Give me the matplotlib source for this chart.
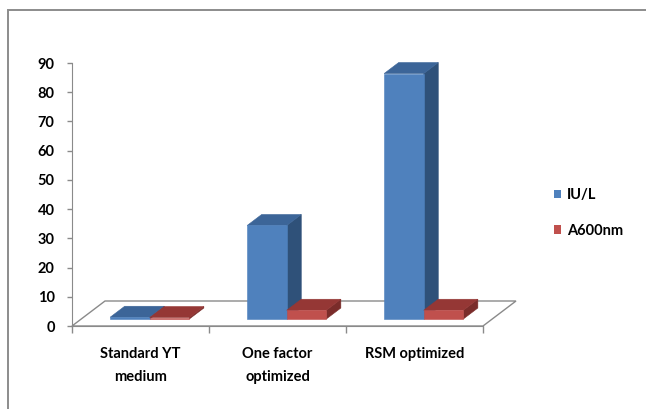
import matplotlib.pyplot as plt
import numpy as np
from matplotlib.patches import Polygon, Rectangle, Patch

categories = ["Standard YT\nmedium", "One factor\noptimized", "RSM optimized"]
series_names = ["IU/L", "A600nm"]
iu_per_l = [0.6, 32, 84]
a600 = [0.5, 3, 3]
yticks = list(range(0, 100, 10))

# face colours for each series: front, top, side
faces = [("#4F81BD", "#3C6598", "#2F5179"),
         ("#C0504D", "#953735", "#7A2C2A")]

plt.rcParams["font.family"] = ["Lato", "DejaVu Sans"]
plt.rcParams["font.weight"] = "bold"

W, H = 646, 409
fig = plt.figure(figsize=(W / 100, H / 100), dpi=100)
ax = fig.add_axes([0, 0, 1, 1])

# pixel layout of the plot (front plane)
x0, xs = 72, 137.0          # x of category 0, pixels per category
y0, ys = 326, 263 / 90.0    # y of value 0, pixels per unit
ax.set_xlim(-x0 / xs, (W - x0) / xs)
ax.set_ylim((y0 - H) / ys, y0 / ys)

# oblique depth of the floor, in data units
DX, DY = 33 / xs, 25 / ys
d0, d1 = 0.28, 0.72   # bar depth range as fraction of floor depth
w = 0.289             # bar width

grey = "#8a8a8a"
n = len(categories)

# floor
floor = Polygon([(0, 0), (n, 0), (n + DX, DY), (DX, DY)], closed=True,
                facecolor="white", edgecolor=grey, lw=1.0, zorder=1)
ax.add_patch(floor)


def box(x, v, cols):
    fx, fy = d0 * DX, d0 * DY
    bx, by = d1 * DX, d1 * DY
    front = [(x + fx, fy), (x + w + fx, fy), (x + w + fx, fy + v), (x + fx, fy + v)]
    top = [(x + fx, fy + v), (x + w + fx, fy + v), (x + w + bx, by + v), (x + bx, by + v)]
    side = [(x + w + fx, fy), (x + w + bx, by), (x + w + bx, by + v), (x + w + fx, fy + v)]
    for pts, c in ((side, cols[2]), (top, cols[1]), (front, cols[0])):
        ax.add_patch(Polygon(pts, closed=True, facecolor=c, edgecolor=c,
                             lw=0.4, zorder=3))


for i in range(n):
    for s, vals in enumerate([iu_per_l, a600]):
        left = i + 0.5 - w + s * w
        box(left, vals[i], faces[s])

# axes lines and ticks
for side in ("top", "right"):
    ax.spines[side].set_visible(False)
ax.spines["left"].set_position(("data", 0))
ax.spines["left"].set_bounds(0, 90)
ax.spines["bottom"].set_position(("data", 0))
ax.spines["bottom"].set_bounds(0, n)
for side in ("left", "bottom"):
    ax.spines[side].set_color(grey)
    ax.spines[side].set_zorder(2)

ax.set_yticks(yticks)
ax.set_yticklabels([str(t) for t in yticks])
ax.tick_params(axis="y", direction="out", length=3.5, width=1, color=grey,
               pad=9, labelsize=10.5, labelcolor="#000000")

ax.set_xticks(np.arange(n + 1))
ax.set_xticklabels([""] * (n + 1))
ax.set_xticks(np.arange(n) + 0.5, minor=True)
ax.set_xticklabels(categories, minor=True, fontsize=10.5, color="#000000",
                   linespacing=1.85)
ax.tick_params(axis="x", which="major", direction="out", length=5, width=1,
               color=grey)
ax.tick_params(axis="x", which="minor", length=0, pad=15)

# legend
handles = [Patch(facecolor=faces[k][0], edgecolor="none") for k in range(2)]
ax.legend(handles, series_names, loc="center left",
          bbox_to_anchor=(548 / W, 1 - 213 / H), frameon=False, fontsize=10.5,
          handlelength=0.5, handleheight=0.5, handletextpad=0.4,
          labelspacing=1.45, borderaxespad=0)

# chart border
fig.add_artist(Rectangle((7.5 / W, -0.05), 1.2, 1.05 - 10.5 / H,
                         transform=fig.transFigure, fill=False,
                         edgecolor="#8c8c8c", lw=1.4))

fig.savefig("out.png", dpi=100)
